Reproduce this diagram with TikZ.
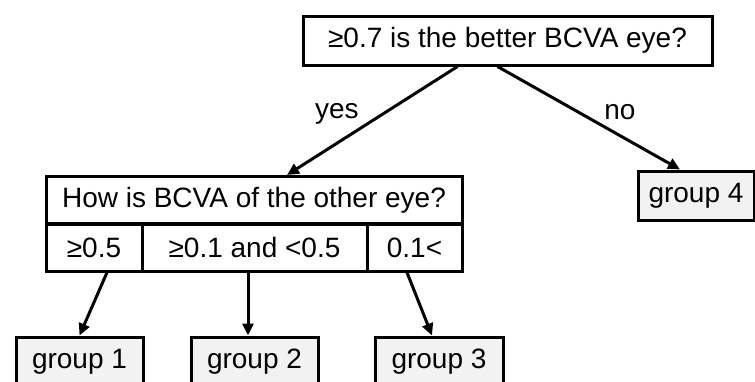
\documentclass[tikz,border=0pt]{standalone}
\usepackage{fontspec}
\setmainfont{Liberation Sans}
\usetikzlibrary{arrows.meta,calc,positioning}

\begin{document}
\begin{tikzpicture}[x=1pt, y=-1pt,
		box/.style={draw, line width=3pt, inner sep=0pt, minimum height=49pt, align=center, font=\fontsize{28}{33}\selectfont},
		cell/.style={box, minimum height=47pt},
		grp/.style={box, fill=black!5},
		lbl/.style={inner sep=0pt, font=\fontsize{28}{33}\selectfont},
		link/.style={line width=3pt, -{Triangle[length=12pt,width=11pt]}}
	]
	\useasboundingbox (0,0) rectangle (755,381);
	\clip (0,0) rectangle (755,381);

	\node[box, minimum width=409pt] (better) at (507.5,40.5) {≥0.7 is the better BCVA eye?};

	\node[cell, minimum width=416pt] (other) at (254,200) {How is BCVA of the other eye?};
	\node[cell, minimum width=96pt] (ge05) at (94,247.5) {≥0.5};
	\node[cell, minimum width=225pt] (mid) at (254.5,247.5) {≥0.1 and <0.5};
	\node[cell, minimum width=95pt] (lt01) at (414.5,247.5) {0.1<};

	\node[grp, minimum width=127pt] (g1) at (79.5,361.5) {group 1};
	\node[grp, minimum width=127pt] (g2) at (254.5,361.5) {group 2};
	\node[grp, minimum width=128pt] (g3) at (439,361.5) {group 3};
	\node[grp, minimum width=116pt] (g4) at (696,195.5) {group 4};

	\draw[link] ([xshift=-50pt]better.south) -- node[lbl, pos=0.5, anchor=base east, xshift=-12pt, yshift=2pt] {yes} ([xshift=33pt]other.north);
	\draw[link] ([xshift=-10pt]better.south) -- node[lbl, pos=0.5, anchor=base west, xshift=14pt, yshift=-1pt] {no} ([xshift=-16pt]g4.north);

	\draw[link] ([xshift=13pt]ge05.south) -- (g1.north);
	\draw[link] ([xshift=-6.5pt]mid.south) -- ([xshift=-6.5pt]g2.north);
	\draw[link] ([xshift=-7.5pt]lt01.south) -- ([xshift=-7pt]g3.north);
\end{tikzpicture}
\end{document}
